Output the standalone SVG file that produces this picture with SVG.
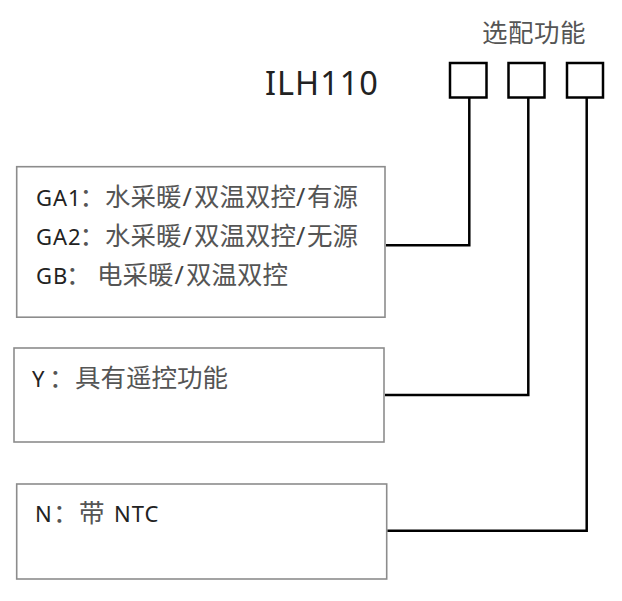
<svg xmlns="http://www.w3.org/2000/svg" width="622" height="601" viewBox="0 0 622 601">
<style>
.box{fill:#fff;stroke:#8c8c8c;stroke-width:1.6}
.sq{fill:#fff;stroke:#000;stroke-width:2.5}
.conn{fill:none;stroke:#000;stroke-width:2.5;stroke-linejoin:miter}
.lat{font-family:"Noto Sans","Open Sans","Liberation Sans",sans-serif;font-size:22px;fill:#222;letter-spacing:1px}
.sl{font-family:"Noto Sans","Open Sans","Liberation Sans",sans-serif;font-size:25px;fill:#444}
.cjk{font-family:"Noto Sans CJK SC","Noto Sans",sans-serif;font-size:25.5px;fill:#555}
.title{font-family:"Noto Sans","Open Sans","Liberation Sans",sans-serif;font-size:32.5px;fill:#222;letter-spacing:1px}
</style>
<rect width="622" height="601" fill="#fff"/>
<g id="header">
<text class="cjk" x="482" y="41.5" style="letter-spacing:0.5px">选配功能</text>
<text class="title" x="265" y="95">ILH110</text>
</g>
<g id="slot1"><rect class="sq" x="450" y="63" width="36.5" height="34.5"/></g>
<g id="slot2"><rect class="sq" x="508.5" y="63" width="36" height="34.5"/></g>
<g id="slot3"><rect class="sq" x="567" y="63" width="36" height="34.5"/></g>
<g id="boxG">
<rect class="box" x="16.7" y="166.7" width="368.3" height="150.5"/>
<text y="206"><tspan class="lat" x="36">GA1</tspan><tspan class="cjk" x="79.5">：</tspan><tspan class="cjk" x="105">水采暖</tspan><tspan class="sl" x="182.5">/</tspan><tspan class="cjk" x="194">双温双控</tspan><tspan class="sl" x="296">/</tspan><tspan class="cjk" x="307">有源</tspan></text>
<text y="245"><tspan class="lat" x="36">GA2</tspan><tspan class="cjk" x="79.5">：</tspan><tspan class="cjk" x="105">水采暖</tspan><tspan class="sl" x="182.5">/</tspan><tspan class="cjk" x="194">双温双控</tspan><tspan class="sl" x="296">/</tspan><tspan class="cjk" x="307">无源</tspan></text>
<text y="284"><tspan class="lat" x="36">GB</tspan><tspan class="cjk" x="66">：</tspan><tspan class="cjk" x="97">电采暖</tspan><tspan class="sl" x="174.5">/</tspan><tspan class="cjk" x="186">双温双控</tspan></text>
</g>
<g id="boxY">
<rect class="box" x="14" y="348" width="370" height="94"/>
<text y="386.5"><tspan class="lat" x="32">Y</tspan><tspan class="cjk" x="49">：</tspan><tspan class="cjk" x="75">具有遥控功能</tspan></text>
</g>
<g id="boxN">
<rect class="box" x="16.7" y="484" width="370" height="95"/>
<text y="521.5"><tspan class="lat" x="35">N</tspan><tspan class="cjk" x="53">：</tspan><tspan class="cjk" x="79">带</tspan><tspan class="lat" x="114">NTC</tspan></text>
</g>
<g id="connectors">
<polyline class="conn" points="469.3,97.5 469.3,245.3 386,245.3"/>
<polyline class="conn" points="528.3,97.5 528.3,395 385,395"/>
<polyline class="conn" points="586.7,97.5 586.7,530.7 387.5,530.7"/>
</g>
</svg>
